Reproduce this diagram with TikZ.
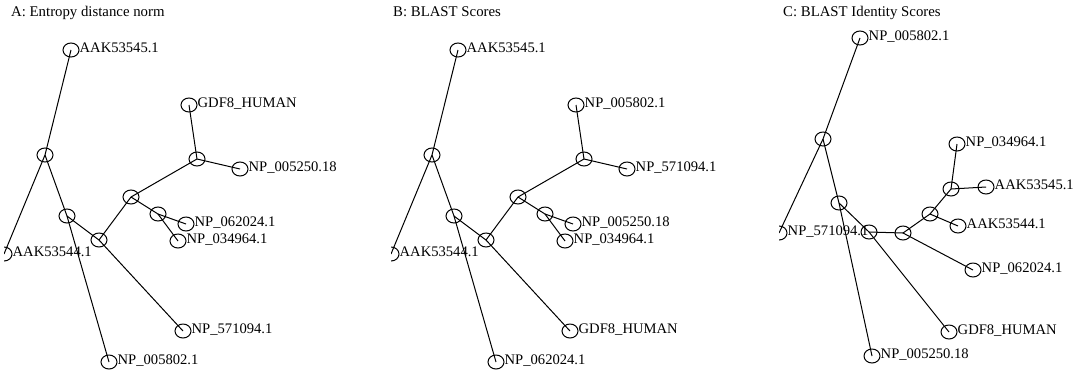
\documentclass[tikz,border=0pt]{standalone}
\usepackage{fontspec}
\setmainfont{Liberation Serif}
\usetikzlibrary{shapes.geometric}

% leaf tag: placed to the right of a tree node
\newcommand\leaftag[2]{\node[lbl] (#1t) at ([shift={(8.5,2)}]#1.center) {#2};}

% unrooted tree shared by panels A and B; #1 = name prefix, #2-#9 = leaf names
\newcommand\phylotree[9]{%
  \node[tnode] (#1L1) at (71,50) {};
  \node[tnode] (#1I1) at (45,155) {};
  \node[tnode] (#1L2) at (189,105) {};
  \node[tnode] (#1H)  at (197,159) {};
  \node[tnode] (#1L3) at (240,169) {};
  \node[tnode] (#1I3) at (131,197) {};
  \node[tnode] (#1I4) at (158,214) {};
  \node[tnode] (#1L4) at (186,224) {};
  \node[tnode] (#1L5) at (178,241) {};
  \node[tnode] (#1I5) at (67,216) {};
  \node[tnode] (#1I6) at (99,240) {};
  \node[tnode] (#1L6) at (4,254) {};
  \node[tnode] (#1L7) at (183,331) {};
  \node[tnode] (#1L8) at (109,362) {};
  \draw[branch] (#1I1.center) -- (#1L1.center);
  \draw[branch] (#1I1.center) -- (#1L6.center);
  \draw[branch] (#1I1.center) -- (#1I5.center);
  \draw[branch] (#1I5.center) -- (#1L8.center);
  \draw[branch] (#1I5.center) -- (#1I6.center);
  \draw[branch] (#1I6.center) -- (#1L7.center);
  \draw[branch] (#1I6.center) -- (#1I3.center);
  \draw[branch] (#1I3.center) -- (#1H.center);
  \draw[branch] (#1H.center) -- (#1L2.center);
  \draw[branch] (#1H.center) -- (#1L3.center);
  \draw[branch] (#1I3.center) -- (#1I4.center);
  \draw[branch] (#1I4.center) -- (#1L4.center);
  \draw[branch] (#1I4.center) -- (#1L5.center);
  \leaftag{#1L1}{#2}
  \leaftag{#1L2}{#3}
  \leaftag{#1L3}{#4}
  \leaftag{#1L4}{#5}
  \leaftag{#1L5}{#6}
  \leaftag{#1L6}{#7}
  \leaftag{#1L7}{#8}
  \leaftag{#1L8}{#9}
}

\begin{document}
\begin{tikzpicture}[x=1pt,y=-1pt,
  tnode/.style={draw, ellipse, line width=1pt, minimum width=16pt,
    minimum height=14pt, inner sep=0pt},
  branch/.style={line width=1pt},
  lbl/.style={anchor=base west, inner sep=0pt, font=\fontsize{14.6}{15}\selectfont},
  ttl/.style={anchor=base west, inner sep=0pt, font=\fontsize{14.8}{15}\selectfont}]
\useasboundingbox (0,0) rectangle (1078,373);

% panel titles
\node[ttl] (tA) at (11,16) {A: Entropy distance norm};
\node[ttl] (tB) at (393,16) {B: BLAST Scores};
\node[ttl] (tC) at (783,16) {C: BLAST Identity Scores};

% A
\begin{scope}
  \clip (4,0) rectangle (380,373);
  \phylotree{a}{AAK53545.1}{GDF8\_HUMAN}{NP\_005250.18}{NP\_062024.1}%
    {NP\_034964.1}{AAK53544.1}{NP\_571094.1}{NP\_005802.1}
\end{scope}

% B
\begin{scope}[xshift=387]
  \clip (4,0) rectangle (380,373);
  \phylotree{b}{AAK53545.1}{NP\_005802.1}{NP\_571094.1}{NP\_005250.18}%
    {NP\_034964.1}{AAK53544.1}{GDF8\_HUMAN}{NP\_062024.1}
\end{scope}

% C
\begin{scope}
  \clip (779,0) rectangle (1078,373);
  \node[tnode] (cL1) at (860,38) {};
  \node[tnode] (cI1) at (823,139) {};
  \node[tnode] (cL2) at (957,144) {};
  \node[tnode] (cH)  at (951,189) {};
  \node[tnode] (cL3) at (986,187) {};
  \node[tnode] (cB)  at (930,214) {};
  \node[tnode] (cL4) at (958,226) {};
  \node[tnode] (cC)  at (903,233) {};
  \node[tnode] (cD)  at (869,232) {};
  \node[tnode] (cI5) at (839,203) {};
  \node[tnode] (cL6) at (779,233) {};
  \node[tnode] (cL7) at (973,270) {};
  \node[tnode] (cL8) at (949,332) {};
  \node[tnode] (cL9) at (872,356) {};
  \draw[branch] (cI1.center) -- (cL1.center);
  \draw[branch] (cI1.center) -- (cL6.center);
  \draw[branch] (cI1.center) -- (cI5.center);
  \draw[branch] (cI5.center) -- (cL9.center);
  \draw[branch] (cI5.center) -- (cD.center);
  \draw[branch] (cD.center) -- (cL8.center);
  \draw[branch] (cD.center) -- (cC.center);
  \draw[branch] (cC.center) -- (cL7.center);
  \draw[branch] (cC.center) -- (cB.center);
  \draw[branch] (cB.center) -- (cL4.center);
  \draw[branch] (cB.center) -- (cH.center);
  \draw[branch] (cH.center) -- (cL2.center);
  \draw[branch] (cH.center) -- (cL3.center);
  \leaftag{cL1}{NP\_005802.1}
  \leaftag{cL2}{NP\_034964.1}
  \leaftag{cL3}{AAK53545.1}
  \leaftag{cL4}{AAK53544.1}
  \leaftag{cL6}{NP\_571094.1}
  \leaftag{cL7}{NP\_062024.1}
  \leaftag{cL8}{GDF8\_HUMAN}
  \leaftag{cL9}{NP\_005250.18}
\end{scope}
\end{tikzpicture}
\end{document}
